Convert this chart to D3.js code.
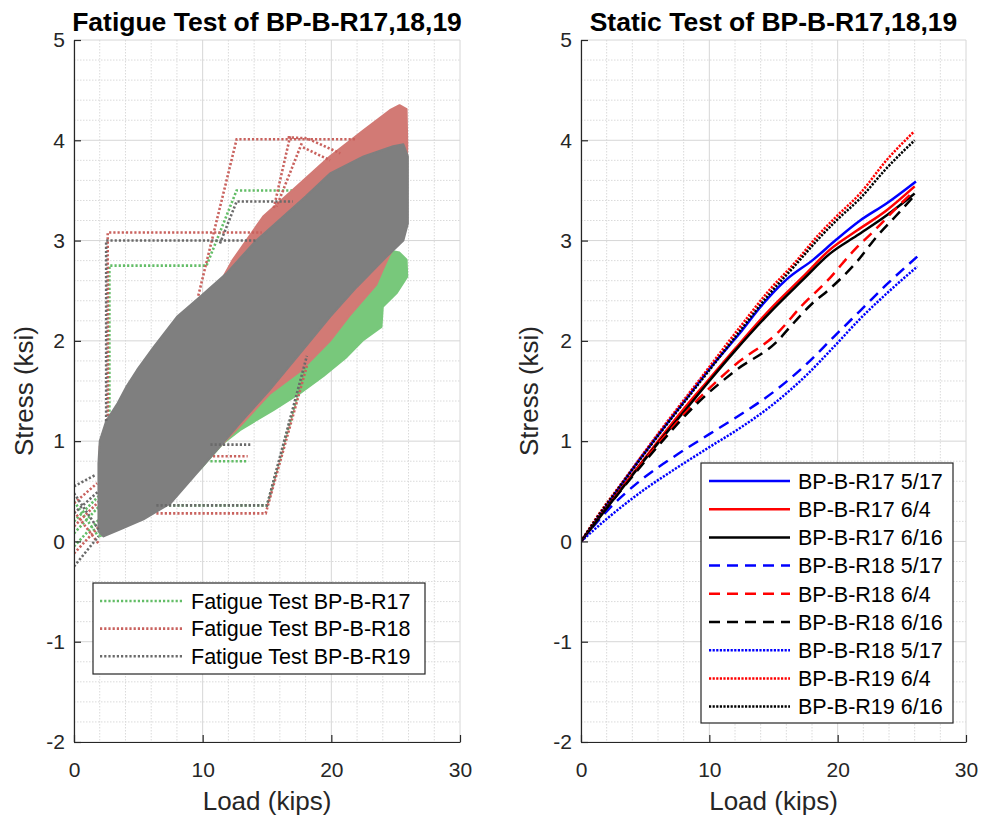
<!DOCTYPE html>
<html><head><meta charset="utf-8">
<script src="https://cdn.jsdelivr.net/npm/d3@7"></script>
<style>body{margin:0;background:#fff;} svg{display:block;}</style>
</head><body><svg id="c" width="983" height="818"></svg>
<script>
// ---------------- DATA ----------------
const xTicks = [0, 10, 20, 30];
const yTicks = [-2, -1, 0, 1, 2, 3, 4, 5];
const xDomain = [0, 30];
const yDomain = [-2, 5];

const fatigueTitle = "Fatigue Test of BP-B-R17,18,19";
const staticTitle = "Static Test of BP-B-R17,18,19";
const xLabel = "Load (kips)";
const yLabel = "Stress (ksi)";

const fatigueNames = ["Fatigue Test BP-B-R17", "Fatigue Test BP-B-R18", "Fatigue Test BP-B-R19"];

// envelopes of the dense fatigue cycle clouds [load, stress]
const r17Envelope = [[2,0.05],[2,0.9],[8,2.1],[14,2.7],[20,2.85],[24.5,2.9],[25.3,2.88],[25.85,2.81],[25.9,2.64],[25.1,2.48],[24.0,2.34],[23.9,2.14],[22.5,2.01],[21.2,1.84],[19.4,1.65],[17.6,1.48],[15.5,1.31],[12.9,1.11],[11.6,0.98],[9.8,0.72],[7,0.4],[4,0.15]];
const r18Envelope = [[2,0.15],[2,0.95],[4,1.4],[8,2.1],[11,2.5],[12.3,2.8],[14.7,3.24],[17.3,3.54],[19.9,3.84],[22.5,4.1],[24.55,4.3],[25.3,4.35],[25.85,4.31],[25.9,3.97],[25.8,3.2],[25.2,3.0],[24.5,2.85],[24.0,2.71],[23.5,2.56],[21.4,2.25],[19.9,2.0],[17.6,1.7],[15.2,1.47],[12.9,1.15],[9.8,0.75],[7.5,0.4],[4,0.15]];
const r19Envelope = [[1.9,0.1],[1.9,0.78],[2.0,1.0],[2.5,1.2],[3.4,1.38],[4.1,1.55],[4.9,1.71],[6.2,1.94],[8.0,2.24],[9.8,2.44],[11.9,2.68],[14.0,2.98],[16.0,3.21],[18.0,3.44],[19.9,3.67],[22.5,3.84],[24.8,3.94],[25.6,3.96],[25.95,3.84],[25.95,3.17],[25.6,3.0],[24.3,2.84],[22.0,2.54],[19.9,2.24],[17.6,1.88],[15.2,1.51],[12.9,1.18],[11.1,0.91],[9.8,0.72],[7.5,0.38],[5.4,0.22],[3.6,0.12],[2.3,0.05]];

// excursion traces outside the clouds
const r17Traces = [
  [[2.75,1.0],[2.75,2.75],[10.3,2.75],[12.64,3.5],[18.1,3.5]],
  [[6.4,0.36],[15.0,0.36],[18.0,1.75]],
  [[10.6,0.8],[13.5,0.8]],
  [[0,0.08],[1.95,0.35]],
  [[0,0.2],[1.9,0.45]],
  [[0,-0.05],[1.95,0.22]],
  [[0,0.4],[1.9,0.05]]
];
const r18Traces = [
  [[2.62,1.0],[2.62,3.08],[14.6,3.08]],
  [[9.66,2.45],[12.64,4.01],[21.9,4.01]],
  [[16.8,4.04],[15.5,3.31]],
  [[17.7,3.97],[15.75,3.34]],
  [[16.6,4.03],[18.1,4.02],[20.7,3.87]],
  [[17.8,3.93],[19.9,3.8]],
  [[6.4,0.28],[14.9,0.28],[18.1,1.75]],
  [[10.8,0.85],[13.5,0.85]],
  [[0,0.38],[1.8,0.58]],
  [[0,-0.12],[1.95,0.15]],
  [[0,0.15],[1.95,0.4]],
  [[0,0.3],[1.9,-0.02]]
];
const r19Traces = [
  [[2.5,1.2],[2.5,3.0],[14.2,3.0]],
  [[11.34,2.97],[12.64,3.39],[17.0,3.39]],
  [[6.4,0.36],[15.0,0.36],[18.1,1.85]],
  [[10.6,0.965],[13.7,0.965]],
  [[0,0.55],[1.63,0.66]],
  [[0,-0.25],[1.9,0.05]],
  [[0,0.28],[1.9,0.5]],
  [[0,0.48],[1.9,0.12]]
];

const staticNames = ["BP-B-R17 5/17","BP-B-R17 6/4","BP-B-R17 6/16","BP-B-R18 5/17","BP-B-R18 6/4","BP-B-R18 6/16","BP-B-R18 5/17","BP-B-R19 6/4","BP-B-R19 6/16"];
const staticR17_0517 = [[0,0],[2,0.36],[4,0.72],[6,1.06],[8,1.39],[10,1.72],[12.4,2.08],[14,2.34],[16,2.61],[18.1,2.81],[19.9,3.01],[21.75,3.2],[23.8,3.37],[26.1,3.59]];
const staticR17_0604 = [[0,0],[2,0.34],[4,0.67],[6,1.0],[8,1.32],[10,1.62],[12,1.92],[14.7,2.31],[17.3,2.64],[19.4,2.91],[21.5,3.1],[23.8,3.3],[26,3.54]];
const staticR17_0616 = [[0,0],[2,0.33],[4,0.66],[6,0.98],[8,1.29],[10,1.6],[12,1.9],[14.7,2.28],[17.3,2.61],[19.4,2.87],[21.5,3.05],[23.8,3.25],[26,3.47]];
const staticR18_0517a = [[0,0],[2.15,0.32],[4.75,0.62],[7.3,0.85],[10,1.07],[12.5,1.27],[15.1,1.5],[17.5,1.76],[19.7,2.04],[21.75,2.3],[23.8,2.56],[26.2,2.84]];
const staticR18_0604 = [[0,0],[3,0.5],[6,0.97],[9,1.4],[12,1.76],[15.4,2.09],[17.2,2.35],[19.2,2.6],[21.4,2.92],[22.7,3.08],[24.7,3.34],[26,3.5]];
const staticR18_0616 = [[0,0],[3,0.49],[6,0.95],[9,1.37],[12,1.7],[15.4,2.01],[16.3,2.14],[18,2.37],[19.4,2.52],[21.5,2.79],[23.05,3.04],[24.5,3.24],[26,3.45]];
const staticR18_0517b = [[0,0],[2.15,0.24],[4.75,0.5],[7.3,0.72],[10,0.94],[12.5,1.14],[15.1,1.38],[17.5,1.65],[19.7,1.94],[21.75,2.22],[23.8,2.47],[26.2,2.74]];
const staticR19_0604 = [[0,0],[1.11,0.22],[3.45,0.63],[6.04,1.08],[9.16,1.6],[12.4,2.14],[14.7,2.51],[16.6,2.77],[18.6,3.07],[19.9,3.24],[21.75,3.47],[23.8,3.8],[25.9,4.08]];
const staticR19_0616 = [[0,0],[1.11,0.21],[3.45,0.62],[6.04,1.06],[9.16,1.57],[12.4,2.1],[14.7,2.47],[16.6,2.74],[18.6,3.03],[19.9,3.2],[21.75,3.42],[23.8,3.72],[26,4.0]];

// ---------------- STYLE / LAYOUT ----------------
const FONT = '"Liberation Sans", Arial, Helvetica, sans-serif';
const AX = "#262626";
const plotTop = 40, plotBottom = 742;

const fatigueStyle = [
  {env: r17Envelope, traces: r17Traces, fill: "#78c87b", dot: "#63bd67"},
  {env: r18Envelope, traces: r18Traces, fill: "#d27a75", dot: "#c9625e"},
  {env: r19Envelope, traces: r19Traces, fill: "#7f7f7f", dot: "#6a6a6a"}
];
const staticData = [staticR17_0517, staticR17_0604, staticR17_0616, staticR18_0517a, staticR18_0604, staticR18_0616, staticR18_0517b, staticR19_0604, staticR19_0616];
const staticColors = ["#0000ff","#ff0000","#000000","#0000ff","#ff0000","#000000","#0000ff","#ff0000","#000000"];
const staticDash = [null,null,null,"11,7","11,7","11,7","2.2,1.4","2.2,1.4","2.2,1.4"];

const svg = d3.select("#c").style("font-family", FONT);

function panel(x0, x1, title, labelX, id) {
  const x = d3.scaleLinear().domain(xDomain).range([x0, x1]);
  const y = d3.scaleLinear().domain(yDomain).range([plotBottom, plotTop]);
  const g = svg.append("g");
  d3.range(0, 30.001, 2).filter(v => v % 10 !== 0).forEach(v => {
    g.append("line").attr("x1", x(v)).attr("x2", x(v)).attr("y1", plotTop).attr("y2", plotBottom)
      .attr("stroke", "#dadada").attr("stroke-width", 1).attr("stroke-dasharray", "1.5,1.5");
  });
  d3.range(-20, 50.001, 2).map(v => v / 10).filter(v => Math.abs(v - Math.round(v)) > 1e-6).forEach(v => {
    g.append("line").attr("y1", y(v)).attr("y2", y(v)).attr("x1", x0).attr("x2", x1)
      .attr("stroke", "#dadada").attr("stroke-width", 1).attr("stroke-dasharray", "1.5,1.5");
  });
  xTicks.forEach(v => g.append("line").attr("x1", x(v)).attr("x2", x(v)).attr("y1", plotTop).attr("y2", plotBottom)
    .attr("stroke", "#d6d6d6").attr("stroke-width", 1));
  yTicks.forEach(v => g.append("line").attr("y1", y(v)).attr("y2", y(v)).attr("x1", x0).attr("x2", x1)
    .attr("stroke", "#d6d6d6").attr("stroke-width", 1));
  svg.append("clipPath").attr("id", id).append("rect")
    .attr("x", x0).attr("y", plotTop).attr("width", x1 - x0).attr("height", plotBottom - plotTop);
  const data = svg.append("g").attr("clip-path", `url(#${id})`);
  return {x, y, g, data, x0, x1, title, labelX};
}

function finishPanel(p) {
  const {x, y, x0, x1} = p;
  const fmt = d => String(d);
  const ax = svg.append("g").attr("transform", `translate(${x0},0)`)
    .call(d3.axisLeft(y).tickValues(yTicks).tickFormat(fmt).tickSize(-7).tickSizeOuter(0).tickPadding(9));
  const bx = svg.append("g").attr("transform", `translate(0,${plotBottom})`)
    .call(d3.axisBottom(x).tickValues(xTicks).tickFormat(fmt).tickSize(-7).tickSizeOuter(0).tickPadding(20));
  [ax, bx].forEach(a => {
    a.select(".domain").attr("stroke", AX).attr("stroke-width", 1.2);
    a.selectAll(".tick line").attr("stroke", AX).attr("stroke-width", 1.2);
    a.selectAll(".tick text").attr("fill", AX).style("font-size", "21px").style("font-family", FONT);
  });
  svg.append("text").attr("x", (x0 + x1) / 2).attr("y", 31).attr("text-anchor", "middle")
    .style("font-size", "26.5px").style("font-weight", "bold").attr("fill", "#000").text(p.title);
  svg.append("text").attr("x", (x0 + x1) / 2).attr("y", 810).attr("text-anchor", "middle")
    .style("font-size", "26px").attr("fill", AX).text(xLabel);
  svg.append("text").attr("transform", `translate(${p.labelX},${(plotTop + plotBottom) / 2}) rotate(-90)`)
    .attr("text-anchor", "middle").style("font-size", "26px").attr("fill", AX).text(yLabel);
}

// ---------- left: fatigue ----------
const L = panel(74, 460, fatigueTitle, 33, "clipL");
const lineL = d3.line().x(d => L.x(d[0])).y(d => L.y(d[1]));
fatigueStyle.forEach(s => {
  L.data.append("path").attr("d", lineL(s.env) + "Z").attr("fill", s.fill)
    .attr("stroke", s.fill).attr("stroke-width", 2).attr("stroke-linejoin", "round");
  s.traces.forEach(t => {
    L.data.append("path").attr("d", lineL(t)).attr("fill", "none").attr("stroke", s.dot)
      .attr("stroke-width", 2.6).attr("stroke-dasharray", "2.2,2");
  });
});
finishPanel(L);
const lgL = svg.append("g");
lgL.append("rect").attr("x", 93).attr("y", 583).attr("width", 332).attr("height", 91)
  .attr("fill", "#fff").attr("stroke", AX).attr("stroke-width", 1.2);
fatigueNames.forEach((n, i) => {
  const yy = 601 + i * 27.6;
  lgL.append("line").attr("x1", 100).attr("x2", 183).attr("y1", yy).attr("y2", yy)
    .attr("stroke", fatigueStyle[i].dot).attr("stroke-width", 2.6).attr("stroke-dasharray", "2.2,2");
  lgL.append("text").attr("x", 191).attr("y", yy).attr("dy", "0.36em").style("font-size", "21.5px")
    .attr("fill", "#000").text(n);
});

// ---------- right: static ----------
const R = panel(581, 966, staticTitle, 538, "clipR");
const lineR = d3.line().x(d => R.x(d[0])).y(d => R.y(d[1])).curve(d3.curveMonotoneX);
staticData.forEach((s, i) => {
  const p = R.data.append("path").attr("d", lineR(s)).attr("fill", "none")
    .attr("stroke", staticColors[i]).attr("stroke-width", 2.5);
  if (staticDash[i]) p.attr("stroke-dasharray", staticDash[i]);
});
finishPanel(R);
const lgR = svg.append("g");
lgR.append("rect").attr("x", 701).attr("y", 463).attr("width", 252).attr("height", 260)
  .attr("fill", "#fff").attr("stroke", AX).attr("stroke-width", 1.2);
staticNames.forEach((n, i) => {
  const yy = 481 + i * 28.2;
  const l = lgR.append("line").attr("x1", 709).attr("x2", 790).attr("y1", yy).attr("y2", yy)
    .attr("stroke", staticColors[i]).attr("stroke-width", 2.5);
  if (staticDash[i]) l.attr("stroke-dasharray", staticDash[i]);
  lgR.append("text").attr("x", 798).attr("y", yy).attr("dy", "0.36em").style("font-size", "21.5px")
    .attr("fill", "#000").text(n);
});
</script></body></html>
